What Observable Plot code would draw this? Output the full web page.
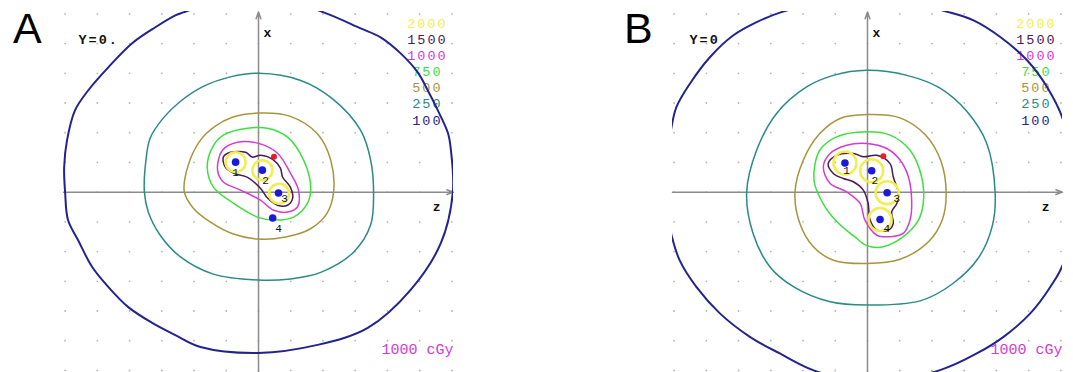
<!DOCTYPE html>
<html><head><meta charset="utf-8">
<script src="https://cdn.jsdelivr.net/npm/d3@7"></script>
<script src="https://cdn.jsdelivr.net/npm/@observablehq/plot@0.6"></script>
<style>
body{margin:0;background:#fff;}
#wrap{position:relative;width:1073px;height:372px;overflow:hidden;background:#fff;}
.panel{position:absolute;top:0;}
.letter{position:absolute;z-index:5;font-family:"Liberation Sans",Arial,sans-serif;font-size:43px;line-height:1;color:#000;}
</style></head><body>
<div id="wrap"></div>
<script>
// ---- data (units: grid spacing; horizontal = z, vertical = x) ----
const levels = [2000, 1500, 1000, 750, 500, 250, 100];
const levelColors = ["#f2ee4e", "#4b1a55", "#d43cd4", "#3ee03e", "#a8943c", "#2a8a85", "#23238f"];
const gridTicks = [-6, -5, -4, -3, -2, -1, 0, 1, 2, 3, 4, 5, 6];

// Panel A isodose curves
const a100 = [[-0.15,6.75],[2.02,6.05],[3.17,5.51],[3.79,5.21],[4.41,4.67],[4.94,4.03],[5.25,3.43],[5.56,2.76],[5.88,1.98],[5.97,1.41],[6.03,0],[5.66,-1.71],[4.72,-3.29],[3.39,-4.57],[1.83,-5.14],[0,-5.41],[-1.80,-5.21],[-2.58,-4.81],[-3.30,-4.40],[-4.04,-3.87],[-4.66,-3.19],[-5.16,-2.52],[-5.60,-1.61],[-5.91,-0.94],[-6.00,0],[-6.03,0.84],[-5.94,1.75],[-5.69,2.76],[-5.28,3.43],[-4.66,4.20],[-3.92,5.01],[-3.20,5.55],[-2.58,5.95],[-2.33,6.05]];
const a250 = [[0,4.0],[1.31,3.76],[2.30,3.14],[3.17,2.08],[3.48,1.08],[3.57,0],[3.48,-1.10],[2.95,-2.02],[1.93,-2.70],[0.99,-2.92],[0,-2.96],[-1.40,-2.76],[-2.42,-2.18],[-3.05,-1.45],[-3.42,-0.67],[-3.54,0],[-3.50,1.00],[-3.36,1.82],[-2.95,2.50],[-2.42,3.06],[-1.71,3.56],[-0.87,3.88]];
const a500 = [[0,2.66],[0.99,2.55],[1.84,1.95],[2.24,1.08],[2.33,0],[2.12,-0.72],[1.60,-1.24],[0.84,-1.51],[0,-1.58],[-0.78,-1.41],[-1.49,-1.01],[-2.02,-0.54],[-2.30,0],[-2.18,0.91],[-1.80,1.75],[-1.34,2.22],[-0.81,2.52]];
const a750 = [[-0.34,2.15],[0.28,2.15],[0.90,1.85],[1.40,1.08],[1.62,0.17],[1.52,-0.37],[1.09,-0.84],[0.47,-0.94],[-0.03,-0.84],[-0.78,-0.37],[-1.40,0.17],[-1.59,0.84],[-1.43,1.51],[-1.09,1.92]];
const a1000 = [[-0.03,1.65],[0.59,1.31],[0.99,0.64],[1.24,0.07],[1.21,-0.50],[0.90,-0.67],[0.47,-0.61],[0.06,-0.27],[-0.56,0.07],[-1.09,0.34],[-1.27,0.74],[-1.12,1.41],[-0.65,1.68]];
const a1500 = [[0.06,1.24],[0.47,1.08],[0.68,0.81],[0.75,0.50],[0.99,0.17],[1.06,-0.20],[0.90,-0.44],[0.59,-0.44],[0.28,-0.20],[0.06,0.13],[-0.34,0.50],[-0.78,0.64],[-1.03,0.84],[-1.09,1.18],[-0.87,1.34],[-0.40,1.34],[-0.19,1.18]];
const a2000 = [[-0.71,1.01],[0.12,0.74],[0.64,-0.05]];
const seedsA = [[-0.71,1.01],[0.12,0.74],[0.62,-0.03],[0.44,-0.87]];
const seedLabelsA = [[-0.71,0.66],[0.22,0.40],[0.81,-0.20],[0.62,-1.21]];
const markerA = [[0.48,1.19]];

// Panel B isodose curves
const b100 = [[0,6.63],[2.51,6.06],[3.29,5.78],[4.12,5.22],[4.95,4.44],[5.57,3.54],[6.09,2.36],[6.36,0.1],[6.09,-2.35],[5.67,-3.19],[5.05,-4.08],[4.22,-4.87],[3.39,-5.43],[2.25,-5.99],[0,-6.43],[-1.69,-5.99],[-2.72,-5.43],[-3.65,-4.87],[-4.58,-4.08],[-5.31,-3.19],[-5.83,-2.29],[-6.08,-1.45],[-6.36,0.1],[-6.08,2.19],[-5.93,2.86],[-5.51,3.65],[-4.89,4.54],[-4.17,5.27],[-3.44,5.72],[-2.67,6.06]];
const b250 = [[-0.02,4.10],[1.22,3.93],[2.25,3.50],[3.08,2.72],[3.70,1.64],[3.96,-0.01],[3.88,-1.10],[3.45,-2.20],[2.62,-3.10],[1.63,-3.66],[-0.02,-3.80],[-1.16,-3.69],[-2.30,-3.18],[-3.03,-2.51],[-3.55,-1.39],[-3.75,-0.01],[-3.44,1.41],[-2.82,2.65],[-1.89,3.54],[-1.06,3.93]];
const b500 = [[-0.02,2.61],[1.01,2.50],[1.80,1.92],[2.28,1.04],[2.44,-0.01],[2.33,-0.90],[1.90,-1.66],[1.01,-2.26],[-0.02,-2.40],[-1.06,-2.29],[-1.68,-1.84],[-2.10,-1.05],[-2.25,-0.01],[-1.99,1.08],[-1.48,1.97],[-0.85,2.48]];
const b750 = [[-0.02,2.03],[0.70,1.92],[1.32,1.41],[1.68,0.51],[1.73,-0.38],[1.58,-0.94],[1.11,-1.50],[0.49,-1.84],[-0.02,-1.80],[-0.40,-1.50],[-0.90,-1.05],[-1.37,-0.40],[-1.66,0.40],[-1.48,1.41],[-0.96,1.86]];
const b1000 = [[-0.02,1.64],[0.60,1.47],[1.01,1.08],[1.27,0.51],[1.37,-0.27],[1.32,-0.94],[1.11,-1.39],[0.70,-1.50],[0.29,-1.45],[-0.08,-0.94],[-0.23,-0.38],[-0.65,0.01],[-1.16,0.29],[-1.37,0.85],[-1.16,1.30],[-0.65,1.58]];
const b1500 = [[0.29,1.24],[0.70,0.96],[0.80,0.51],[0.96,-0.04],[0.91,-0.38],[0.75,-0.66],[0.80,-1.05],[0.65,-1.28],[0.29,-1.28],[0.08,-0.94],[0.02,-0.38],[-0.13,0.07],[-0.44,0.35],[-0.75,0.46],[-1.06,0.63],[-1.22,0.96],[-0.96,1.24],[-0.44,1.30],[-0.13,1.19]];
const b2000 = [[-0.70,0.98],[0.13,0.72],[0.61,-0.02],[0.39,-0.92]];
const seedsB = [[-0.70,0.98],[0.13,0.72],[0.61,-0.02],[0.39,-0.92]];
const seedLabelsB = [[-0.65,0.72],[0.23,0.40],[0.91,-0.21],[0.60,-1.22]];
const markerB = [[0.49,1.21]];

const seedNames = ["1", "2", "3", "4"];
const titleA = "Y=0.";
const titleB = "Y=0";
const unitLabel = "1000 cGy";
const axisNames = ["x", "z"];

// ---- build ----
const X = [-6.05, 6.05], Y = [-6.07, 6.08];
function curveRows(list) {
  return list.flatMap(([level, pts]) => pts.map(([u, v]) => ({u, v, level})));
}
const toXY = pts => pts.map(([u, v], i) => ({u, v, i}));

function panel(cfg) {
  const rows = curveRows(cfg.curves);
  const grid = d3.cross(gridTicks, gridTicks).map(([u, v]) => ({u, v}));
  const axes = [{x1: X[0], y1: 0, x2: X[1], y2: 0}, {x1: 0, y1: Y[0], x2: 0, y2: Y[1] - 0.02}];
  const mono = "'Liberation Mono','DejaVu Sans Mono',monospace";
  const svg = Plot.plot({
    width: 464, height: 372,
    marginLeft: 63, marginRight: 11, marginTop: 11, marginBottom: 0,
    x: {domain: X, axis: null},
    y: {domain: Y, axis: null},
    color: {type: "ordinal", domain: levels, range: levelColors},
    style: {background: "transparent"},
    marks: [
      Plot.dot(grid, {x: "u", y: "v", r: 0.9, fill: "#b5b5b5"}),
      Plot.arrow(axes, {x1: "x1", y1: "y1", x2: "x2", y2: "y2", stroke: "#8c8c8c", strokeWidth: 1.5, headLength: 7, headAngle: 40}),
      Plot.text(levels, {x: () => 5.24, y: (d, i) => 5.68 - i * 0.543, text: d => String(d), fill: d => d,
        fontSize: 13.5, fontFamily: mono, textAnchor: "middle"}),
      Plot.line(rows.filter(d => d.level !== 100), {x: "u", y: "v", z: "level", stroke: "level",
        curve: "catmull-rom-closed", strokeWidth: 1.5, clip: true}),
      Plot.line(rows.filter(d => d.level === 100), {x: "u", y: "v", z: "level", stroke: "level",
        curve: "catmull-rom-closed", strokeWidth: 2, clip: true}),
      Plot.dot(toXY(cfg.rings), {x: "u", y: "v", r: cfg.ringR, stroke: levelColors[0], strokeWidth: 2.5, fill: "none"}),
      Plot.dot(toXY(cfg.seeds), {x: "u", y: "v", r: 3.8, fill: "#1a1ad8"}),
      Plot.dot(toXY(cfg.marker), {x: "u", y: "v", r: 3, fill: "#e82020"}),
      Plot.text(toXY(cfg.labels), {x: "u", y: "v", text: d => seedNames[d.i], fontSize: 11,
        fontFamily: mono, fill: "#111"}),
      Plot.text([cfg.title], {frameAnchor: "top-left", dx: cfg.titleDx, dy: 23, textAnchor: "start",
        fontSize: 13.5, fontWeight: "bold", fontFamily: mono, fill: "#111"}),
      Plot.text([axisNames[0]], {x: 0, frameAnchor: "top", dx: 9, dy: 16, fontSize: 13, fontWeight: "bold", fontFamily: mono, fill: "#111"}),
      Plot.text([axisNames[1]], {y: 0, frameAnchor: "right", dx: -13, dy: 15, fontSize: 13, fontWeight: "bold", fontFamily: mono, fill: "#111"}),
      Plot.text([unitLabel], {frameAnchor: "bottom-right", dx: 0, dy: -19, textAnchor: "end",
        fontSize: 15, fontFamily: mono, fill: levelColors[2]})
    ]
  });
  // letter spacing for the bitmap-like labels
  const groups = svg.querySelectorAll('g[aria-label="text"]');
  if (groups[0]) groups[0].setAttribute("letter-spacing", "2");
  if (groups[2]) groups[2].setAttribute("letter-spacing", "2");
  if (groups[6]) groups[6].setAttribute("letter-spacing", "1.2");
  return svg;
}

const wrap = document.getElementById("wrap");
const pa = panel({
  curves: [[100, a100], [250, a250], [500, a500], [750, a750], [1000, a1000], [1500, a1500]],
  rings: a2000, ringR: 10, seeds: seedsA, labels: seedLabelsA, marker: markerA, title: titleA, titleDx: 15
});
const pb = panel({
  curves: [[100, b100], [250, b250], [500, b500], [750, b750], [1000, b1000], [1500, b1500]],
  rings: b2000, ringR: 11.5, seeds: seedsB, labels: seedLabelsB, marker: markerB, title: titleB, titleDx: 17
});
pa.classList.add("panel"); pa.style.left = "0px";
pb.classList.add("panel"); pb.style.left = "609px";
wrap.appendChild(pa); wrap.appendChild(pb);
for (const [t, l] of [["A", 13], ["B", 624]]) {
  const d = document.createElement("div");
  d.className = "letter"; d.textContent = t; d.style.left = l + "px"; d.style.top = "7px";
  wrap.appendChild(d);
}
</script>
</body></html>
